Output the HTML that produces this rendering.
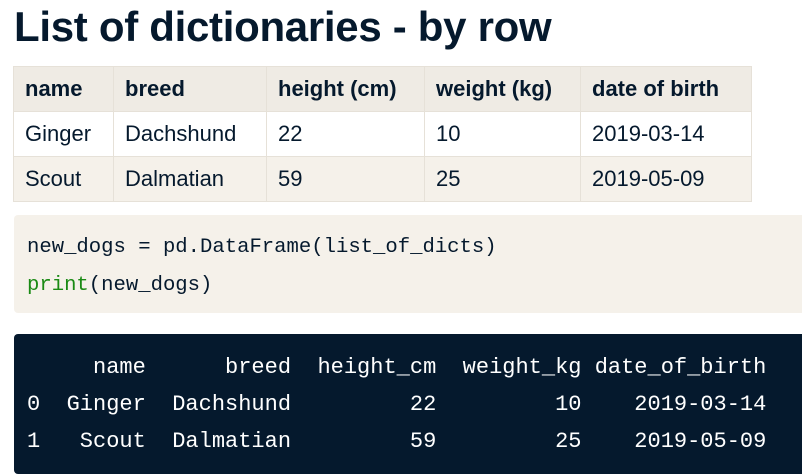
<!DOCTYPE html>
<html><head><meta charset="utf-8"><style>
body{margin:0;width:802px;height:473px;background:#fff;overflow:hidden;position:relative;font-family:"Liberation Sans",sans-serif;color:#05192d}
h1{position:absolute;left:14px;top:1px;margin:0;font-size:42px;font-weight:bold;line-height:52px;letter-spacing:-0.3px}
table{position:absolute;left:13px;top:66px;border-collapse:collapse;font-size:22px}
td,th{border:1.5px solid #e6e1d8;padding:0 0 0 11px;height:45px;text-align:left;box-sizing:border-box}
th{background:#efebe4;font-weight:bold}
tr.r2 td{background:#f5f1ea}
.code{position:absolute;left:14px;top:215px;width:800px;height:98px;background:#f5f1ea;border-radius:4px;font-family:"Liberation Mono",monospace;font-size:20.6px;line-height:38px;box-sizing:border-box;padding:14px 0 0 13px;white-space:pre}
.out{position:absolute;left:14px;top:334px;width:800px;height:140px;background:#05192d;border-radius:4px;color:#fff;font-family:"Liberation Mono",monospace;font-size:22px;line-height:37px;box-sizing:border-box;padding:15px 0 0 13px;white-space:pre;margin:0}
.g{color:#1a8a14}
</style></head><body>
<h1>List of dictionaries - by row</h1>
<table>
<tr><th style="width:100px">name</th><th style="width:153px">breed</th><th style="width:158px">height (cm)</th><th style="width:156px">weight (kg)</th><th style="width:171px">date of birth</th></tr>
<tr><td>Ginger</td><td>Dachshund</td><td>22</td><td>10</td><td>2019-03-14</td></tr>
<tr class="r2"><td>Scout</td><td>Dalmatian</td><td>59</td><td>25</td><td>2019-05-09</td></tr>
</table>
<div class="code">new_dogs = pd.DataFrame(list_of_dicts)
<span class="g">print</span>(new_dogs)</div>
<pre class="out">     name      breed  height_cm  weight_kg date_of_birth
0  Ginger  Dachshund         22         10    2019-03-14
1   Scout  Dalmatian         59         25    2019-05-09</pre>
</body></html>
